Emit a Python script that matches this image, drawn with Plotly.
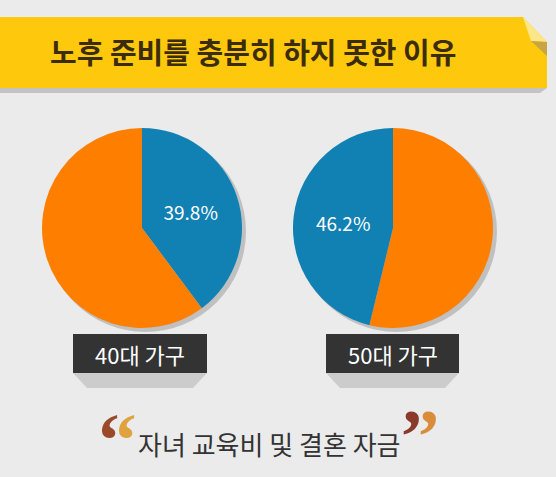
import plotly.graph_objects as go

# data
groups = ['40대 가구', '50대 가구']
reasons = ['자녀 교육비 및 결혼 자금', '기타']
share_40 = [39.8, 60.2]
share_50 = [46.2, 53.8]
title_text = '노후 준비를 충분히 하지 못한 이유'

W, H = 556, 477
BLUE = '#1180b3'
ORANGE = '#fe7f00'


def px(x):
    return x / W


def py(y):
    return 1 - y / H


fig = go.Figure()

# pie centres and radius in px
pies = [(142, 228, 100), (393, 228, 100)]

# 40대: blue slice runs clockwise from 12 o'clock
fig.add_trace(go.Pie(
    labels=reasons,
    values=share_40,
    sort=False,
    direction='clockwise',
    text=[f'{share_40[0]}%', ''],
    textinfo='text',
    textposition='inside',
    insidetextorientation='horizontal',
    textfont=dict(family='Noto Sans CJK KR', size=19, color='white'),
    marker=dict(colors=[BLUE, ORANGE], line=dict(width=0)),
    domain=dict(x=[px(142 - 100), px(142 + 100)], y=[py(328), py(128)]),
    showlegend=False,
    hoverinfo='label+percent',
))

# 50대: blue slice sits left of 12 o'clock, so draw orange first
fig.add_trace(go.Pie(
    labels=reasons[::-1],
    values=share_50[::-1],
    sort=False,
    direction='clockwise',
    text=['', f'{share_50[0]}%'],
    textinfo='text',
    textposition='inside',
    insidetextorientation='horizontal',
    textfont=dict(family='Noto Sans CJK KR', size=19, color='white'),
    marker=dict(colors=[ORANGE, BLUE], line=dict(width=0)),
    domain=dict(x=[px(393 - 100), px(393 + 100)], y=[py(328), py(128)]),
    showlegend=False,
    hoverinfo='label+percent',
))

shapes = []

# pie shadows
for cx, cy, r in pies:
    shapes.append(dict(type='circle', xref='paper', yref='paper', layer='below',
                       x0=px(cx - r + 3), x1=px(cx + r + 4),
                       y0=py(cy + r + 4), y1=py(cy - r + 3),
                       fillcolor='rgba(0,0,0,0.18)', line=dict(width=0)))


def path(points):
    return 'M ' + ' L '.join(f'{px(x):.4f},{py(y):.4f}' for x, y in points) + ' Z'


# banner shadow
shapes.append(dict(type='path', xref='paper', yref='paper', layer='below',
                   path=path([(0, 84), (547, 84), (547, 88), (540, 93), (0, 93)]),
                   fillcolor='rgba(120,120,120,0.35)', line=dict(width=0)))
# banner
shapes.append(dict(type='path', xref='paper', yref='paper', layer='below',
                   path=path([(0, 17), (523, 17), (547, 42), (547, 88), (0, 88)]),
                   fillcolor='#fec90c', line=dict(width=0)))
# folded corner
shapes.append(dict(type='path', xref='paper', yref='paper', layer='below',
                   path=path([(523, 17), (547, 42), (531, 41)]),
                   fillcolor='#fde688', line=dict(width=0)))
shapes.append(dict(type='path', xref='paper', yref='paper', layer='below',
                   path=path([(531, 41), (547, 42), (547, 56)]),
                   fillcolor='#c9a442', line=dict(width=0)))

# label boxes with shadows
box_x = [(73, 207), (326, 459)]
for x0, x1 in box_x:
    shapes.append(dict(type='path', xref='paper', yref='paper', layer='below',
                       path=path([(x0, 373), (x1, 373), (x1 - 14, 388), (x0 + 14, 388)]),
                       fillcolor='rgba(0,0,0,0.13)', line=dict(width=0)))
    shapes.append(dict(type='rect', xref='paper', yref='paper', layer='below',
                       x0=px(x0), x1=px(x1), y0=py(373), y1=py(334),
                       fillcolor='#333333', line=dict(width=0)))

annotations = [
    dict(text=title_text, x=px(253), y=py(51), xref='paper', yref='paper',
         showarrow=False, xanchor='center', yanchor='middle',
         font=dict(family='Noto Sans CJK KR', size=29, color='#3b2c0c', weight=700)),
    dict(text=reasons[0], x=px(269), y=py(443), xref='paper', yref='paper',
         showarrow=False, xanchor='center', yanchor='middle',
         font=dict(family='Noto Sans CJK KR', size=26, color='#333333')),
]

# quote marks, one glyph each
quotes = [('‘', 108, '#9a4a2a', 440), ('‘', 125, '#e0a23e', 440),
          ('’', 411, '#8a3a2a', 436), ('’', 428, '#d98c3a', 436)]
for ch, qx, col, qy in quotes:
    annotations.append(dict(text=ch, x=px(qx), y=py(qy), xref='paper', yref='paper',
                            showarrow=False, xanchor='center', yanchor='middle',
                            font=dict(family='Liberation Serif', size=76, color=col, weight=700)))

for (x0, x1), g in zip(box_x, groups):
    annotations.append(dict(text=g, x=px((x0 + x1) / 2), y=py(354), xref='paper', yref='paper',
                            showarrow=False, xanchor='center', yanchor='middle',
                            font=dict(family='Noto Sans CJK KR', size=22, color='white')))

fig.update_layout(
    width=W, height=H,
    margin=dict(l=0, r=0, t=0, b=0),
    paper_bgcolor='#ebebeb',
    plot_bgcolor='#ebebeb',
    shapes=shapes,
    annotations=annotations,
)

fig.write_html('out.html', config={'displayModeBar': False},
               post_script="document.body.style.margin='0';document.body.style.overflow='hidden';")
